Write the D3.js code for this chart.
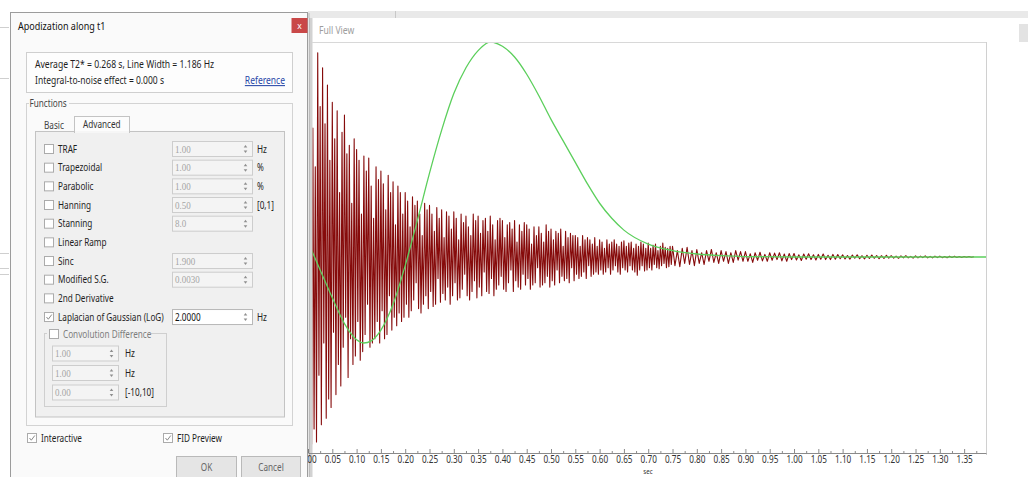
<!DOCTYPE html>
<html><head><meta charset="utf-8">
<script src="https://cdn.jsdelivr.net/npm/d3@7"></script>
<style>
html,body{margin:0;padding:0;background:#fff;overflow:hidden}
svg{display:block;font-family:"Noto Sans","Open Sans",sans-serif}
</style></head><body>
<svg id="c" width="1028" height="477"></svg>
<script>
// ---------- data ----------
// FID (dense head: 0 .. 0.7475 s every 0.0025 s)
const fidHeadStart = 0, fidHeadStep = 0.0025;
const fidHead = [
0.35,-0.50,0.98,-0.87,0.60,-0.80,0.42,-0.86,0.95,-0.55,0.70,-0.78,0.88,-0.40,0.62,-0.75,0.80,-0.66,0.45,-0.70,
0.72,-0.35,0.55,-0.64,0.68,-0.50,0.30,-0.60,0.58,-0.42,0.66,-0.28,0.48,-0.56,0.52,-0.38,0.25,-0.50,0.55,-0.46,
0.50,-0.30,0.45,-0.48,0.20,-0.44,0.47,-0.36,0.40,-0.22,0.46,-0.42,0.33,-0.40,0.18,-0.38,0.42,-0.30,0.36,-0.40,
0.40,-0.25,0.34,-0.38,0.22,-0.36,0.38,-0.18,0.30,-0.34,0.35,-0.28,0.15,-0.32,0.33,-0.26,0.30,-0.30,0.20,-0.28,
0.30,-0.22,0.26,-0.28,0.14,-0.25,0.28,-0.20,0.24,-0.12,0.26,-0.24,0.20,-0.26,0.10,-0.22,0.25,-0.18,0.22,-0.24,
0.24,-0.16,0.20,-0.23,0.12,-0.22,0.23,-0.10,0.18,-0.21,0.22,-0.17,0.09,-0.20,0.21,-0.14,0.19,-0.22,0.13,-0.18,
0.21,-0.12,0.18,-0.20,0.08,-0.19,0.20,-0.15,0.16,-0.08,0.19,-0.18,0.14,-0.20,0.10,-0.16,0.20,-0.11,0.17,-0.19,
0.19,-0.14,0.11,-0.18,0.17,-0.07,0.18,-0.16,0.12,-0.17,0.19,-0.10,0.15,-0.18,0.08,-0.15,0.17,-0.13,0.18,-0.09,
0.17,-0.15,0.09,-0.16,0.15,-0.12,0.16,-0.06,0.13,-0.16,0.17,-0.11,0.07,-0.14,0.15,-0.15,0.12,-0.08,0.16,-0.13,
0.15,-0.10,0.13,-0.15,0.06,-0.13,0.14,-0.12,0.10,-0.05,0.14,-0.14,0.11,-0.13,0.07,-0.12,0.15,-0.09,0.12,-0.14,
0.13,-0.11,0.08,-0.13,0.12,-0.06,0.11,-0.12,0.13,-0.09,0.05,-0.11,0.12,-0.10,0.09,-0.12,0.11,-0.05,0.10,-0.11,
0.10,-0.08,0.09,-0.10,0.05,-0.09,0.10,-0.07,0.08,-0.10,0.09,-0.04,0.08,-0.09,0.06,-0.08,0.09,-0.07,0.05,-0.08,
0.08,-0.06,0.07,-0.08,0.04,-0.07,0.08,-0.05,0.06,-0.08,0.07,-0.06,0.08,-0.04,0.06,-0.07,0.05,-0.08,0.07,-0.05,
0.075,-0.06,0.05,-0.07,0.065,-0.04,0.07,-0.06,0.04,-0.07,0.06,-0.085,0.05,-0.06,0.07,-0.04,0.06,-0.065,0.04,-0.06,
0.065,-0.05,0.04,-0.06,0.055,-0.035,0.06,-0.05,0.03,-0.055,0.05,-0.04,0.065,-0.03,0.045,-0.05,0.04,-0.045,0.05,-0.035
];
// FID tail: 0.75 .. 1.37 s every 0.005 s
const fidTailStart = 0.75, fidTailStep = 0.005;
const fidTail = [
0.05,-0.04,0.03,-0.045,0.04,-0.03,0.045,-0.035,0.03,-0.04,
0.035,-0.03,0.02,-0.035,0.03,-0.02,0.035,-0.025,0.02,-0.03,0.03,-0.02,0.025,-0.03,0.02,-0.025,0.03,-0.015,0.025,-0.02,
0.025,-0.02,0.015,-0.025,0.02,-0.015,0.022,-0.018,0.012,-0.02,0.02,-0.015,0.018,-0.012,0.02,-0.018,0.014,-0.02,0.016,-0.012,
0.016,-0.014,0.01,-0.016,0.014,-0.01,0.015,-0.012,0.01,-0.014,0.012,-0.01,0.014,-0.012,0.008,-0.012,0.012,-0.01,0.011,-0.008,
0.01,-0.009,0.007,-0.01,0.009,-0.006,0.01,-0.008,0.006,-0.009,0.008,-0.007,0.009,-0.006,0.007,-0.008,0.006,-0.007,0.008,-0.005,
0.006,-0.005,0.004,-0.006,0.005,-0.004,0.006,-0.004,0.003,-0.005,0.005,-0.004,0.004,-0.003,0.005,-0.004,0.003,-0.004,0.004,-0.003,
0.004,-0.003,0.002,-0.003,0.003,-0.002,0.003,-0.002,0.002,-0.002,0.002,-0.001,0.002,-0.001,0.001
];
// apodization function (green)
const apodTimes  = [0,0.025,0.05,0.075,0.10,0.115,0.13,0.15,0.175,0.20,0.225,0.25,0.275,0.30,0.325,0.35,0.375,0.40,0.425,0.45,0.475,0.50,0.525,0.55,0.575,0.60,0.625,0.65,0.70,0.75,0.80,0.85,0.90,1.00,1.20,1.395];
const apodValues = [0.07,-0.06,-0.19,-0.31,-0.385,-0.40,-0.39,-0.34,-0.22,-0.04,0.17,0.39,0.59,0.76,0.88,0.96,1.0,0.98,0.93,0.85,0.75,0.64,0.54,0.44,0.34,0.25,0.18,0.125,0.06,0.03,0.014,0.006,0.002,0,0,0];
const xTicks = [0.00,0.05,0.10,0.15,0.20,0.25,0.30,0.35,0.40,0.45,0.50,0.55,0.60,0.65,0.70,0.75,0.80,0.85,0.90,0.95,1.00,1.05,1.10,1.15,1.20,1.25,1.30,1.35];
const xAxisTitle = "sec";
const panelTitle = "Full View";

const dialogTitle = "Apodization along t1";
const infoLines = ["Average T2* = 0.268 s, Line Width = 1.186 Hz", "Integral-to-noise effect = 0.000 s"];
const fnNames   = ["TRAF","Trapezoidal","Parabolic","Hanning","Stanning","Linear Ramp","Sinc","Modified S.G.","2nd Derivative","Laplacian of Gaussian (LoG)"];
const fnValues  = ["1.00","1.00","1.00","0.50","8.0",null,"1.900","0.0030",null,"2.0000"];
const fnUnits   = ["Hz","%","%","[0,1]","",null,"","",null,"Hz"];
const fnChecked = [false,false,false,false,false,false,false,false,false,true];
const convValues = ["1.00","1.00","0.00"];
const convUnits  = ["Hz","Hz","[-10,10]"];

// ---------- setup ----------
const svg = d3.select('#c');
const SX = 0.82;
function txt(g, x, y, s, o = {}) {
  const t = g.append('text')
    .attr('transform', `translate(${x},${y}) scale(${o.sx || SX},1)`)
    .attr('font-size', o.size || 10)
    .attr('fill', o.fill || '#1e1e1e')
    .attr('text-anchor', o.anchor || 'start')
    .text(s);
  if (o.family) t.attr('font-family', o.family);
  if (o.deco) t.attr('text-decoration', o.deco);
  return t;
}

svg.append('rect').attr('width', 1028).attr('height', 477).attr('fill', '#fff');

// background app strip
svg.append('rect').attr('x', 308).attr('y', 11).attr('width', 720).attr('height', 7).attr('fill', '#e9e9e9');
svg.append('line').attr('x1', 395.5).attr('x2', 395.5).attr('y1', 11).attr('y2', 18).attr('stroke', '#c8c8c8');
svg.append('rect').attr('x', 1019).attr('y', 24).attr('width', 9).attr('height', 18).attr('fill', '#e3e3e3');
[27.5, 78.5, 253.5, 268.5, 274.5].forEach(yy =>
  svg.append('line').attr('x1', 0).attr('x2', 9).attr('y1', yy).attr('y2', yy).attr('stroke', '#cfcfcf'));

// chart panel
svg.append('rect').attr('x', 309).attr('y', 18).attr('width', 3.5).attr('height', 459).attr('fill', '#d2d2d2');
txt(svg, 319, 33.5, panelTitle, {size: 10.5, fill: '#9d9d9d'});
svg.append('line').attr('x1', 312).attr('x2', 987).attr('y1', 42.5).attr('y2', 42.5).attr('stroke', '#d8d8d8');
svg.append('line').attr('x1', 986.5).attr('x2', 986.5).attr('y1', 42).attr('y2', 455).attr('stroke', '#d0d0d0');

const x = d3.scaleLinear().domain([0, 1.395]).range([308, 986]);
const y = d3.scaleLinear().domain([-0.9, 1.0]).range([450.5, 42]);

svg.append('clipPath').attr('id', 'plotclip').append('rect')
  .attr('x', 312.5).attr('y', 43).attr('width', 673.5).attr('height', 409);
const plot = svg.append('g').attr('clip-path', 'url(#plotclip)');

const fid = fidHead.map((v, i) => [fidHeadStart + i * fidHeadStep, v])
  .concat(fidTail.map((v, i) => [fidTailStart + i * fidTailStep, v]));
plot.append('path').datum(fid)
  .attr('fill', 'none').attr('stroke', '#860b0b').attr('stroke-width', 1.1).attr('stroke-linejoin', 'round')
  .attr('d', d3.line().x(d => x(d[0])).y(d => y(d[1])));

const apod = apodTimes.map((t, i) => [t, apodValues[i]]);
plot.append('path').datum(apod)
  .attr('fill', 'none').attr('stroke', '#5ccf5c').attr('stroke-width', 1.3)
  .attr('d', d3.line().curve(d3.curveMonotoneX).x(d => x(d[0])).y(d => y(d[1])));

// x axis
const axisY = 453;
const minorTicks = xTicks.map(v => v + 0.025);
const gMinor = svg.append('g').attr('transform', `translate(0,${axisY})`)
  .call(d3.axisBottom(x).tickValues(minorTicks).tickSizeInner(-2).tickSizeOuter(0).tickFormat(''));
gMinor.select('.domain').remove();
gMinor.selectAll('line').attr('stroke', '#8a8a8a');
const gAxis = svg.append('g').attr('transform', `translate(0,${axisY})`)
  .call(d3.axisBottom(x).tickValues(xTicks).tickSizeInner(-4).tickSizeOuter(0).tickPadding(3).tickFormat(d3.format('.2f')));
gAxis.select('.domain').attr('stroke', '#8a8a8a');
gAxis.selectAll('line').attr('stroke', '#8a8a8a');
gAxis.selectAll('text').attr('font-size', 10).attr('fill', '#333')
  .attr('font-family', '"Noto Sans",sans-serif')
  .attr('transform', `scale(${SX},1)`);
txt(svg, 648, 474.3, xAxisTitle, {size: 7.5, fill: '#333', anchor: 'middle'});

// ---------- dialog ----------
const dlg = svg.append('g');
dlg.append('rect').attr('x', 11).attr('y', 13).attr('width', 299).attr('height', 470).attr('fill', 'rgba(0,0,0,0.10)');
dlg.append('rect').attr('x', 10.5).attr('y', 12.5).attr('width', 297).attr('height', 470)
  .attr('fill', '#fafafa').attr('stroke', '#9c9c9c');
txt(dlg, 18, 29.5, dialogTitle, {size: 11, fill: '#111'});
dlg.append('rect').attr('x', 291.5).attr('y', 18).attr('width', 16).attr('height', 15).attr('fill', '#c94848');
txt(dlg, 299.5, 28.5, 'x', {size: 8.5, fill: '#fff', anchor: 'middle', sx: 1});

// info box
dlg.append('rect').attr('x', 26.5).attr('y', 52.5).attr('width', 266).attr('height', 40)
  .attr('fill', '#fdfdfd').attr('stroke', '#cfcfcf');
txt(dlg, 35, 68, infoLines[0], {size: 10.5});
txt(dlg, 35, 84, infoLines[1], {size: 10.4});
txt(dlg, 285, 84, 'Reference', {anchor: 'end', fill: '#2747a8', deco: 'underline', size: 10.4});

// functions group
dlg.append('rect').attr('x', 26.5).attr('y', 103.5).attr('width', 266).attr('height', 322)
  .attr('fill', 'none').attr('stroke', '#d3d3d3');
dlg.append('rect').attr('x', 29).attr('y', 99).attr('width', 40).attr('height', 9).attr('fill', '#fafafa');
txt(dlg, 29.5, 107, 'Functions', {fill: '#444'});

// tab pane
dlg.append('rect').attr('x', 35.5).attr('y', 131.5).attr('width', 249).attr('height', 285.5)
  .attr('fill', '#f0f0f0').attr('stroke', '#c3c3c3');
dlg.append('rect').attr('x', 74.5).attr('y', 116.5).attr('width', 55).attr('height', 16)
  .attr('fill', '#fcfcfc').attr('stroke', '#c3c3c3');
dlg.append('rect').attr('x', 75).attr('y', 131).attr('width', 54).attr('height', 2).attr('fill', '#f6f6f6');
txt(dlg, 44, 128.5, 'Basic', {fill: '#444'});
txt(dlg, 83, 127.5, 'Advanced', {fill: '#333'});

function checkbox(g, bx, by, checked) {
  g.append('rect').attr('x', bx + 0.5).attr('y', by + 0.5).attr('width', 9).attr('height', 9)
    .attr('fill', '#fff').attr('stroke', '#ababab');
  if (checked) {
    g.append('path').attr('d', `M${bx + 2.5},${by + 5} L${bx + 4.3},${by + 7.2} L${bx + 7.8},${by + 2.5}`)
      .attr('fill', 'none').attr('stroke', '#8a8a8a').attr('stroke-width', 1);
  }
}
function spinbox(g, sx0, cy, w, val, enabled) {
  g.append('rect').attr('x', sx0 + 0.5).attr('y', cy - 7.5).attr('width', w).attr('height', 15)
    .attr('fill', enabled ? '#ffffff' : '#f4f4f4').attr('stroke', enabled ? '#b8b8b8' : '#cdcdcd');
  if (enabled) txt(g, sx0 + 3, cy + 3.5, val, {fill: '#111'});
  else txt(g, sx0 + 3, cy + 3.5, val, {fill: '#a5a5a5', family: '"Liberation Serif",serif', size: 10, sx: 0.9});
  const ax = sx0 + w - 6.5;
  g.append('path').attr('d', `M${ax - 1.8},${cy - 1.5} L${ax + 1.8},${cy - 1.5} L${ax},${cy - 4} Z`).attr('fill', '#8f8f8f');
  g.append('path').attr('d', `M${ax - 1.8},${cy + 1.5} L${ax + 1.8},${cy + 1.5} L${ax},${cy + 4} Z`).attr('fill', '#8f8f8f');
}

const rowStart = 149, rowGap = 18.67;
fnNames.forEach((name, i) => {
  const cy = rowStart + i * rowGap;
  checkbox(dlg, 44, cy - 5, fnChecked[i]);
  txt(dlg, 58, cy + 3.5, name, {fill: '#1e1e1e'});
  if (fnValues[i] !== null) {
    spinbox(dlg, 172, cy, 80, fnValues[i], fnChecked[i]);
    if (fnUnits[i]) txt(dlg, 257, cy + 3.5, fnUnits[i], {fill: '#222'});
  }
});

// convolution difference group
dlg.append('rect').attr('x', 44.5).attr('y', 333.5).attr('width', 122).attr('height', 73)
  .attr('fill', 'none').attr('stroke', '#cfcfcf');
dlg.append('rect').attr('x', 47).attr('y', 328).attr('width', 104).attr('height', 11).attr('fill', '#f0f0f0');
checkbox(dlg, 49, 329, false);
txt(dlg, 63, 337.5, 'Convolution Difference', {fill: '#7d7d7d'});
const convRows = [353.5, 373, 392.5];
convValues.forEach((v, i) => {
  spinbox(dlg, 52, convRows[i], 66, v, false);
  txt(dlg, 125, convRows[i] + 3.5, convUnits[i], {fill: '#222'});
});

// bottom controls
checkbox(dlg, 27, 433, true);
txt(dlg, 41, 442, 'Interactive', {fill: '#1e1e1e'});
checkbox(dlg, 163, 433, true);
txt(dlg, 177, 442, 'FID Preview', {fill: '#1e1e1e'});
[[176.5, 60, 'OK'], [241.5, 59, 'Cancel']].forEach(([bx, bw, lab]) => {
  dlg.append('rect').attr('x', bx).attr('y', 456.5).attr('width', bw).attr('height', 22)
    .attr('fill', '#e5e5e5').attr('stroke', '#b9b9b9');
  txt(dlg, bx + bw / 2, 471, lab, {anchor: 'middle', fill: '#666'});
});
</script>
</body></html>
